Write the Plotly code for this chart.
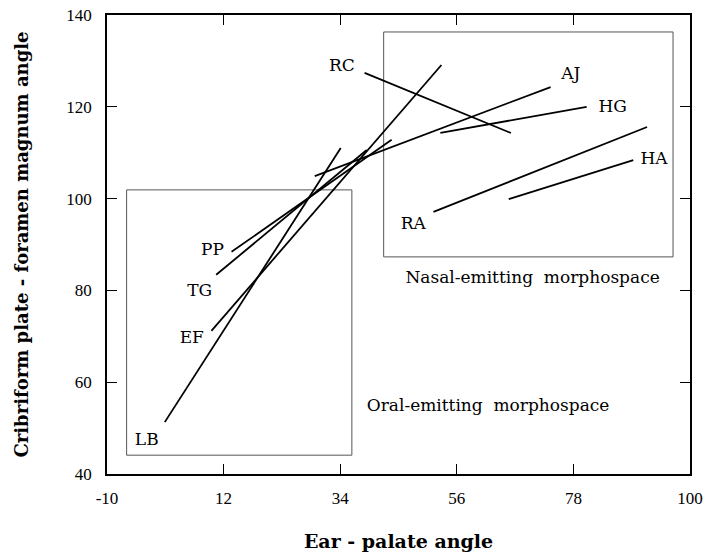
import plotly.graph_objects as go

# Species trajectories: start and end points (Ear-palate angle, Cribriform-foramen magnum angle)
species = ["LB", "EF", "PP", "TG", "AJ", "RC", "HG", "RA", "HA"]
x_start = [0.9, 9.7, 13.5, 10.6, 29.2, 38.6, 52.9, 51.6, 65.8]
y_start = [51.3, 71.2, 88.4, 83.4, 104.9, 127.4, 114.3, 97.1, 99.9]
x_end = [34.1, 53.1, 43.7, 39.0, 73.7, 66.2, 80.5, 91.9, 89.3]
y_end = [111.0, 129.1, 112.8, 110.6, 124.3, 114.3, 120.0, 115.6, 108.4]

# Label positions
label_x = [-2.5, 6.0, 9.9, 7.5, 77.5, 34.3, 85.4, 47.8, 93.2]
label_y = [47.2, 69.4, 88.6, 79.7, 126.9, 128.7, 119.7, 94.2, 108.4]

# Morphospace boxes
oral_box = [-6.3, 44.1, 36.2, 101.9]
nasal_box = [42.2, 87.3, 96.8, 136.3]
region_names = ["Oral-emitting  morphospace", "Nasal-emitting  morphospace"]
region_x = [61.9, 70.3]
region_y = [54.6, 82.5]

x_ticks = [-10, 12, 34, 56, 78, 100]
y_ticks = [40, 60, 80, 100, 120, 140]

FONT = "DejaVu Serif"
TICKFONT = "Liberation Serif"

fig = go.Figure()
for i, sp in enumerate(species):
    fig.add_trace(go.Scatter(
        x=[x_start[i], x_end[i]], y=[y_start[i], y_end[i]],
        mode="lines", line=dict(color="black", width=1.8),
        showlegend=False, hoverinfo="skip"))

fig.add_trace(go.Scatter(
    x=label_x, y=label_y, text=species, mode="text",
    textfont=dict(family=FONT, size=17, color="black"),
    showlegend=False))

fig.add_trace(go.Scatter(
    x=region_x, y=region_y, text=region_names, mode="text",
    textfont=dict(family=FONT, size=17, color="black"),
    showlegend=False))

for b in [oral_box, nasal_box]:
    fig.add_shape(type="rect", x0=b[0], y0=b[1], x1=b[2], y1=b[3],
                  line=dict(color="#555555", width=1), layer="below")

axis_common = dict(
    showgrid=False, zeroline=False, showline=True, linecolor="black",
    linewidth=1.5, mirror="ticks", ticks="inside", ticklen=10,
    tickwidth=1.3, tickcolor="black", automargin=False,
    tickfont=dict(family=TICKFONT, size=17, color="black"),
)

fig.update_xaxes(range=[-10, 100], tickvals=x_ticks,
                 ticktext=[str(v) for v in x_ticks],
                 ticklabeloverflow="allow", ticklabelstandoff=8,
                 title=dict(text="<b>Ear - palate angle</b>",
                            font=dict(family=FONT, size=19, color="black"),
                            standoff=28),
                 **axis_common)
fig.update_yaxes(range=[40, 140], tickvals=y_ticks,
                 ticktext=[str(v) for v in y_ticks],
                 ticklabelstandoff=10,
                 title=dict(text="<b>Cribriform plate - foramen magnum angle</b>",
                            font=dict(family=FONT, size=18, color="black"),
                            standoff=33),
                 **axis_common)

fig.update_layout(
    width=704, height=557,
    margin=dict(l=107, r=14, t=15, b=83),
    plot_bgcolor="white", paper_bgcolor="white",
    showlegend=False,
)

fig.write_html("out.html")
